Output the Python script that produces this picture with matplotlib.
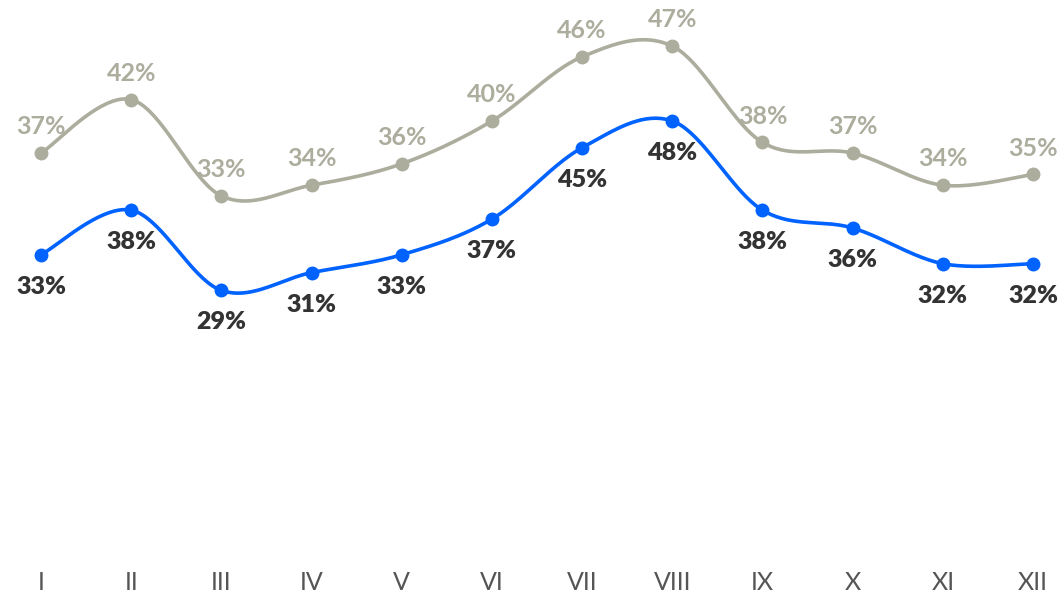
import numpy as np
import matplotlib
matplotlib.use("Agg")
import matplotlib.pyplot as plt

months = ["I", "II", "III", "IV", "V", "VI", "VII", "VIII", "IX", "X", "XI", "XII"]
gray_vals = [37, 42, 33, 34, 36, 40, 46, 47, 38, 37, 34, 35]
blue_vals = [33, 38, 29, 31, 33, 37, 45, 48, 38, 36, 32, 32]

GRAY = "#ADAD9E"
BLUE = "#0062FF"
DARK = "#333333"
FONT = "Lato"


def smooth(xs, ys, n=40):
    xs = np.asarray(xs, float)
    ys = np.asarray(ys, float)
    px = np.concatenate([[xs[0]], xs, [xs[-1]]])
    py = np.concatenate([[ys[0]], ys, [ys[-1]]])
    ox, oy = [], []
    t = np.linspace(0, 1, n)
    for i in range(1, len(px) - 2):
        p0 = np.array([px[i - 1], py[i - 1]])
        p1 = np.array([px[i], py[i]])
        p2 = np.array([px[i + 1], py[i + 1]])
        p3 = np.array([px[i + 2], py[i + 2]])
        c1 = p1 + (p2 - p0) / 6.0
        c2 = p2 - (p3 - p1) / 6.0
        for tt in t:
            b = ((1 - tt) ** 3) * p1 + 3 * ((1 - tt) ** 2) * tt * c1 + 3 * (1 - tt) * tt ** 2 * c2 + tt ** 3 * p2
            ox.append(b[0]); oy.append(b[1])
    return np.array(ox), np.array(oy)


W, H = 1061, 596
fig = plt.figure(figsize=(W / 100, H / 100), dpi=100)
left = 41 / W
width = 992 / W
bottom = (H - 549) / H
height = 535 / H
ax = fig.add_axes([left, bottom, width, height])
ax2 = ax.twinx()

x = np.arange(len(months))

for a in (ax, ax2):
    a.set_xlim(0, 11)
    for s in a.spines.values():
        s.set_visible(False)
    a.set_yticks([])
    a.patch.set_visible(False)

ax.set_ylim(0, 50)
ax2.set_ylim(0, 60)

sx, sy = smooth(x, gray_vals)
ax.plot(sx, sy, color=GRAY, lw=2.6, clip_on=False, zorder=3)
ax.plot(x, gray_vals, 'o', color=GRAY, ms=9, clip_on=False, zorder=4)
for xi, v in zip(x, gray_vals):
    ax.annotate(f"{v}%", (xi, v), xytext=(0, 19), textcoords="offset points",
                ha="center", va="center", fontsize=18, color=GRAY,
                family=FONT, fontweight="bold", zorder=2)

bx, by = smooth(x, blue_vals)
ax2.plot(bx, by, color=BLUE, lw=2.6, clip_on=False, zorder=3)
ax2.plot(x, blue_vals, 'o', color=BLUE, ms=9, clip_on=False, zorder=4)
for xi, v in zip(x, blue_vals):
    ax2.annotate(f"{v}%", (xi, v), xytext=(0, -23), textcoords="offset points",
                 ha="center", va="center", fontsize=18, color=DARK,
                 family=FONT, fontweight="heavy", zorder=2)

ax.set_xticks(x)
ax.set_xticklabels(months, fontsize=18, color="#555555", family=FONT, fontweight="normal")
ax.tick_params(axis="x", length=0, pad=16)
ax2.tick_params(axis="x", length=0)

fig.savefig("out.png", dpi=100)
